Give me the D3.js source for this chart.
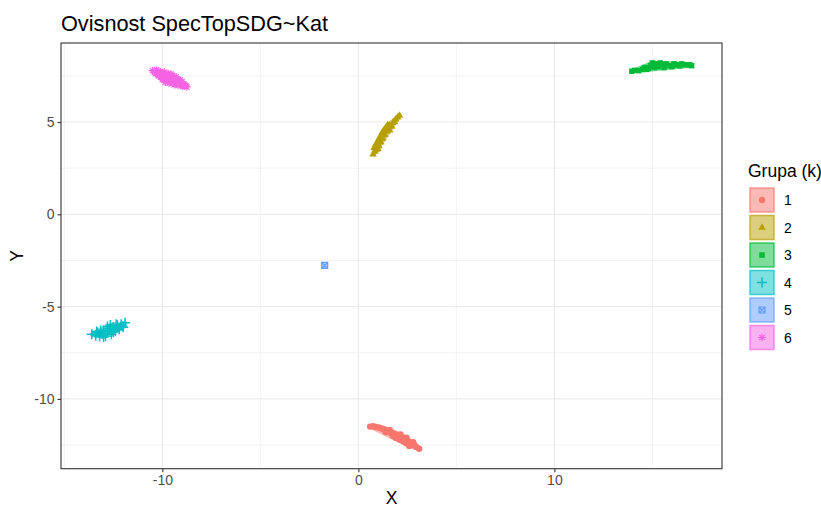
<!DOCTYPE html>
<html>
<head>
<meta charset="utf-8">
<script src="https://cdn.jsdelivr.net/npm/d3@7"></script>
<style>
  html, body { margin: 0; padding: 0; background: #fff; }
  svg { display: block; font-family: "Liberation Sans", Arial, sans-serif; }
</style>
</head>
<body>
<svg id="chart" width="821" height="508"></svg>
<script>
// ---------- data ----------
const groups = ["1", "2", "3", "4", "5", "6"];
const groupColors = ["#F8766D", "#B79F00", "#00BA38", "#00BFC4", "#619CFF", "#F564E3"];
const groupShapes = ["circle", "triangle", "square", "plus", "boxX", "asterisk"];

const g1X = [0.6, 0.75, 0.9, 1.05, 1.2, 1.35, 1.5, 1.6, 1.7, 1.85, 1.95, 2.05, 2.15, 2.25, 2.35, 2.45, 2.55, 2.65, 2.75, 2.85, 2.95, 3.1, 2.3, 1.9, 2.6, 1.4, 1.75, 2.1, 2.45, 2.8];
const g1Y = [-11.5, -11.48, -11.52, -11.55, -11.6, -11.65, -11.75, -11.68, -11.85, -11.9, -11.95, -12.05, -11.92, -12.1, -12.2, -12.1, -12.3, -12.4, -12.45, -12.5, -12.6, -12.7, -12.3, -12.1, -12.55, -11.8, -12.0, -12.2, -12.4, -12.35];

const g2X = [0.75, 0.85, 0.8, 0.95, 0.9, 1.05, 1.0, 1.15, 1.1, 1.25, 1.2, 1.35, 1.3, 1.45, 1.4, 1.55, 1.6, 1.7, 1.75, 1.85, 1.9, 2.0, 2.1, 1.6, 1.0, 1.5, 1.25];
const g2Y = [3.25, 3.4, 3.6, 3.5, 3.8, 3.7, 4.0, 3.9, 4.2, 4.1, 4.4, 4.3, 4.55, 4.5, 4.7, 4.6, 4.8, 4.75, 4.95, 5.0, 5.15, 5.25, 5.35, 4.55, 3.55, 4.85, 4.45];

const g3X = [13.95, 14.1, 14.3, 14.5, 14.6, 14.8, 14.9, 15.1, 15.2, 15.3, 15.5, 15.6, 15.7, 15.9, 16.0, 16.2, 16.4, 16.5, 16.7, 16.9, 17.0, 15.0, 14.7, 15.4, 16.1];
const g3Y = [7.75, 7.8, 7.78, 7.85, 7.95, 7.9, 8.05, 7.95, 8.15, 8.0, 8.1, 7.95, 8.15, 8.05, 8.0, 8.1, 8.05, 8.15, 8.1, 8.1, 8.05, 8.2, 7.85, 8.2, 8.15];

const g4X = [-13.6, -13.4, -13.3, -13.2, -13.1, -13.0, -12.9, -12.8, -12.7, -12.6, -12.5, -12.4, -12.3, -12.2, -12.1, -12.0, -11.9, -12.8, -12.5, -13.0, -13.35, -12.65, -12.35, -12.05, -13.15, -12.45];
const g4Y = [-6.5, -6.58, -6.4, -6.62, -6.45, -6.3, -6.6, -6.35, -6.2, -6.5, -6.1, -6.32, -6.0, -6.22, -5.95, -6.12, -5.88, -6.08, -6.38, -6.65, -6.35, -6.0, -5.95, -6.05, -6.3, -6.25];

const g5X = [-1.72];
const g5Y = [-2.77];

const g6X = [-10.5, -10.4, -10.3, -10.2, -10.1, -10.0, -10.0, -9.9, -9.8, -9.8, -9.7, -9.7, -9.6, -9.6, -9.5, -9.5, -9.4, -9.3, -9.3, -9.2, -9.1, -9.1, -9.0, -9.0, -8.9, -8.8, -9.9, -10.1, -9.4, -9.2, -10.35, -10.0, -9.75, -9.55, -9.85, -9.65, -9.35, -9.15, -8.95, -10.2, -8.75, -8.85];
const g6Y = [7.78, 7.7, 7.82, 7.6, 7.72, 7.62, 7.42, 7.7, 7.35, 7.55, 7.25, 7.62, 7.45, 7.15, 7.3, 7.52, 7.22, 7.45, 7.1, 7.3, 7.05, 7.28, 6.98, 7.18, 7.05, 6.95, 7.3, 7.45, 7.02, 6.98, 7.62, 7.3, 7.5, 7.6, 7.15, 7.1, 7.35, 7.15, 6.92, 7.5, 6.9, 7.0];

const xTicks = [-10, 0, 10];
const yTicks = [-10, -5, 0, 5];
const xMinor = [-15, -5, 5, 15];
const yMinor = [-12.5, -7.5, -2.5, 2.5, 7.5];

const titleText = "Ovisnost SpecTopSDG~Kat";
const xLabel = "X";
const yLabel = "Y";
const legendTitle = "Grupa (k)";

// ---------- build ----------
const allX = [g1X, g2X, g3X, g4X, g5X, g6X];
const allY = [g1Y, g2Y, g3Y, g4Y, g5Y, g6Y];
const series = groups.map((g, i) => ({
  group: g, color: groupColors[i], shape: groupShapes[i],
  pts: allX[i].map((x, j) => ({ x: x, y: allY[i][j] }))
}));

const panel = { left: 61, right: 722, top: 43, bottom: 468.7 };
const x = d3.scaleLinear().domain([-15.17, 18.55]).range([panel.left, panel.right]);
const y = d3.scaleLinear().domain([-13.78, 9.28]).range([panel.bottom, panel.top]);

const svg = d3.select("#chart");

// gridlines
const grid = svg.append("g");
grid.selectAll(".xm").data(xMinor).enter().append("line")
  .attr("x1", d => x(d)).attr("x2", d => x(d)).attr("y1", panel.top).attr("y2", panel.bottom)
  .attr("stroke", "#EBEBEB").attr("stroke-width", 0.6);
grid.selectAll(".ym").data(yMinor).enter().append("line")
  .attr("y1", d => y(d)).attr("y2", d => y(d)).attr("x1", panel.left).attr("x2", panel.right)
  .attr("stroke", "#EBEBEB").attr("stroke-width", 0.6);
grid.selectAll(".xM").data(xTicks).enter().append("line")
  .attr("x1", d => x(d)).attr("x2", d => x(d)).attr("y1", panel.top).attr("y2", panel.bottom)
  .attr("stroke", "#EBEBEB").attr("stroke-width", 1.2);
grid.selectAll(".yM").data(yTicks).enter().append("line")
  .attr("y1", d => y(d)).attr("y2", d => y(d)).attr("x1", panel.left).attr("x2", panel.right)
  .attr("stroke", "#EBEBEB").attr("stroke-width", 1.2);

// symbol paths
function symbolPath(shape) {
  const p = d3.path();
  switch (shape) {
    case "circle": return d3.symbol(d3.symbolCircle, Math.PI * 3.2 * 3.2)();
    case "triangle": return d3.symbol(d3.symbolTriangle, 24)();
    case "square": return d3.symbol(d3.symbolSquare, 30)();
    case "plus":
      p.moveTo(-5, 0); p.lineTo(5, 0); p.moveTo(0, -5); p.lineTo(0, 5); return p.toString();
    case "boxX":
      p.rect(-3, -3, 6, 6); p.moveTo(-3, -3); p.lineTo(3, 3); p.moveTo(3, -3); p.lineTo(-3, 3); return p.toString();
    case "asterisk":
      p.moveTo(-3.8, 0); p.lineTo(3.8, 0); p.moveTo(0, -3.8); p.lineTo(0, 3.8);
      p.moveTo(-2.7, -2.7); p.lineTo(2.7, 2.7); p.moveTo(2.7, -2.7); p.lineTo(-2.7, 2.7); return p.toString();
  }
}
const filledShape = s => s === "circle" || s === "triangle" || s === "square";

// hulls (alpha polygon behind points)
const hullG = svg.append("g");
series.forEach(s => {
  const px = s.pts.map(d => [x(d.x), y(d.y)]);
  if (px.length >= 3) {
    const h = d3.polygonHull(px);
    hullG.append("path").attr("d", "M" + h.join("L") + "Z")
      .attr("fill", s.color).attr("fill-opacity", 0.5)
      .attr("stroke", s.color).attr("stroke-opacity", 0.5).attr("stroke-width", 4)
      .attr("stroke-linejoin", "round");
  } else {
    hullG.append("rect").attr("x", px[0][0] - 3.5).attr("y", px[0][1] - 3.5)
      .attr("width", 7).attr("height", 7).attr("fill", s.color).attr("fill-opacity", 0.5);
  }
});

// points
const ptsG = svg.append("g");
series.forEach(s => {
  const path = symbolPath(s.shape);
  ptsG.selectAll(null).data(s.pts).enter().append("path")
    .attr("d", path)
    .attr("transform", d => `translate(${x(d.x)},${y(d.y)})`)
    .attr("fill", filledShape(s.shape) ? s.color : "none")
    .attr("stroke", filledShape(s.shape) ? "none" : s.color)
    .attr("stroke-width", s.shape === "plus" ? 1.5 : 1.2);
});

// panel border
svg.append("rect").attr("x", panel.left).attr("y", panel.top)
  .attr("width", panel.right - panel.left).attr("height", panel.bottom - panel.top)
  .attr("fill", "none").attr("stroke", "#333333").attr("stroke-width", 1.1);

// axes
const xAxis = d3.axisBottom(x).tickValues(xTicks).tickSize(3.5).tickPadding(3).tickFormat(d3.format("d"));
const yAxis = d3.axisLeft(y).tickValues(yTicks).tickSize(3.5).tickPadding(3).tickFormat(d3.format("d"));
const gx = svg.append("g").attr("transform", `translate(0,${panel.bottom})`).call(xAxis);
const gy = svg.append("g").attr("transform", `translate(${panel.left},0)`).call(yAxis);
[gx, gy].forEach(g => {
  g.select(".domain").remove();
  g.selectAll(".tick line").attr("stroke", "#333333").attr("stroke-width", 1.1);
  g.selectAll(".tick text").attr("fill", "#4D4D4D").attr("font-size", 14)
    .attr("font-family", "'Liberation Sans', Arial, sans-serif");
});
gx.selectAll(".tick text").text(d => d < 0 ? "-" + Math.abs(d) : d);
gy.selectAll(".tick text").text(d => d < 0 ? "-" + Math.abs(d) : d);

// titles
svg.append("text").attr("x", panel.left).attr("y", 31).attr("font-size", 21.7)
  .attr("fill", "#000").text(titleText);
svg.append("text").attr("x", (panel.left + panel.right) / 2).attr("y", 504)
  .attr("text-anchor", "middle").attr("font-size", 17.5).attr("fill", "#000").text(xLabel);
svg.append("text").attr("transform", `translate(23,${(panel.top + panel.bottom) / 2}) rotate(-90)`)
  .attr("text-anchor", "middle").attr("font-size", 17.5).attr("fill", "#000").text(yLabel);

// legend
const leg = svg.append("g");
leg.append("text").attr("x", 748).attr("y", 177).attr("font-size", 17.5).attr("fill", "#000").text(legendTitle);
series.forEach((s, i) => {
  const top = 188 + i * 27.5;
  const kg = leg.append("g");
  kg.append("rect").attr("x", 750).attr("y", top).attr("width", 24).attr("height", 24)
    .attr("fill", s.color).attr("fill-opacity", 0.5)
    .attr("stroke", s.color).attr("stroke-opacity", 0.7).attr("stroke-width", 1.5);
  kg.append("path").attr("d", symbolPath(s.shape))
    .attr("transform", `translate(762,${top + 12})`)
    .attr("fill", filledShape(s.shape) ? s.color : "none")
    .attr("stroke", filledShape(s.shape) ? "none" : s.color)
    .attr("stroke-width", s.shape === "plus" ? 1.5 : 1.2);
  kg.append("text").attr("x", 784).attr("y", top + 12).attr("dy", "0.36em")
    .attr("font-size", 14).attr("fill", "#000").text(s.group);
});
</script>
</body>
</html>
